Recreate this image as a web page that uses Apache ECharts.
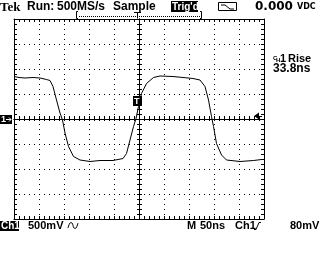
<!DOCTYPE html>
<html><head><meta charset="utf-8">
<script src="https://cdn.jsdelivr.net/npm/echarts@6/dist/echarts.min.js"></script>
<style>html,body{margin:0;padding:0;background:#fff}#c{width:320px;height:256px}</style>
</head><body><div id="c"></div>
<script>
// Ch1 trace: time (ns, trigger at 0) and voltage (V)
const timeNs = [-250,-240,-228,-212,-198,-185,-178,-172,-165,-158,-153,-148,-141,-131,-118,-98,-78,-52,-32,-25,-18,-11,-6,-1,5,15,29,42,68,88,108,122,132,139,145,149,155,165,175,202,229,245,250];
const ch1Volts = [0.85,0.83,0.82,0.83,0.82,0.79,0.77,0.65,0.38,0.12,-0.02,-0.28,-0.55,-0.75,-0.82,-0.85,-0.83,-0.83,-0.79,-0.69,-0.42,-0.15,0.01,0.25,0.51,0.71,0.83,0.86,0.85,0.83,0.81,0.78,0.65,0.38,0.05,-0.15,-0.49,-0.72,-0.82,-0.85,-0.83,-0.81,-0.81];
const timeRange = [-250, 250];   // 10 div x 50 ns
const voltRange = [-2, 2];       // 8 div x 500 mV
const timePerDiv = 50;
const voltPerDiv = 0.5;
const headerTexts = ['Run:', '500MS/s', 'Sample'];
const footerTexts = ['500mV', 'M', '50ns', 'Ch1', '80mV'];
const measTexts = ['Rise', '33.8ns'];

const BLACK = '#000';
const TL = 3;
function axisBase(isX, extra) {
  const a = {
    type: 'value',
    min: isX ? timeRange[0] : voltRange[0],
    max: isX ? timeRange[1] : voltRange[1],
    interval: isX ? timePerDiv : voltPerDiv,
    axisLabel: {show: false},
    splitLine: {show: false},
    axisLine: {show: true, onZero: false, lineStyle: {color: BLACK, width: 1}},
    axisTick: {show: true, inside: true, length: TL, lineStyle: {color: BLACK, width: 1}},
    minorTick: {show: true, splitNumber: 5, length: TL, lineStyle: {color: BLACK, width: 1}},
    axisPointer: {show: false},
    silent: true
  };
  return Object.assign(a, extra);
}
const dotted = {show: true, lineStyle: {color: BLACK, width: 1, type: [1, 4]}};
const zeroLine = {show: true, onZero: true, onZeroAxisIndex: 0, lineStyle: {color: BLACK, width: 1}};
const outTick = {show: true, inside: false, length: 2, lineStyle: {color: BLACK, width: 1}};
const outMinor = {show: true, splitNumber: 5, length: 2, lineStyle: {color: BLACK, width: 1}};

const xAxes = [
  axisBase(true, {position: 'bottom', splitLine: dotted}),
  axisBase(true, {position: 'top'}),
  axisBase(true, {position: 'bottom', axisLine: zeroLine}),
  axisBase(true, {position: 'bottom', axisLine: zeroLine, axisTick: outTick, minorTick: outMinor})
];
const yAxes = [
  axisBase(false, {position: 'left', splitLine: dotted}),
  axisBase(false, {position: 'right'}),
  axisBase(false, {position: 'left', axisLine: zeroLine}),
  axisBase(false, {position: 'left', axisLine: zeroLine, axisTick: outTick, minorTick: outMinor})
];

const F = "'Liberation Sans', Arial, sans-serif";
function txt(text, x, y, size, opts) {
  opts = opts || {};
  return {type: 'text', z: 100, silent: true, style: {text: text, x: x, y: y, fill: opts.fill || BLACK,
    font: (opts.weight || 'bold') + ' ' + size + 'px ' + (opts.family || F), verticalAlign: 'top', align: opts.align || 'left'}};
}
function rect(x, y, w, h, fill, stroke) {
  return {type: 'rect', z: 99, silent: true, shape: {x: x, y: y, width: w, height: h},
    style: {fill: fill || 'none', stroke: stroke || null, lineWidth: 1}};
}
function pline(pts, opts) {
  opts = opts || {};
  return {type: 'polyline', z: 100, silent: true, shape: {points: pts, smooth: opts.smooth || 0},
    style: {stroke: opts.stroke || BLACK, fill: null, lineWidth: opts.width || 1, lineDash: opts.dash}};
}

const graphics = [
  // header
  txt('Tek', 0, 1, 13, {family: "'Liberation Serif', serif"}),
  txt(headerTexts[0], 27, 1, 12),
  txt(headerTexts[1], 57, 1, 12),
  txt(headerTexts[2], 113, 1, 12),
  rect(171, 1, 27, 11, BLACK),
  txt("Trig'd", 172, 2, 10, {fill: '#fff'}),
  rect(218.5, 2.5, 18, 8, null, BLACK),
  pline([[221, 5], [225, 5], [230, 9], [234, 9]]),
  txt('0.000', 255, 1, 12, {family: "'DejaVu Sans', sans-serif"}),
  txt('VDC', 297, 3, 8, {family: "'DejaVu Sans', sans-serif"}),
  // record bracket
  pline([[78, 11.5], [76.5, 11.5], [76.5, 18.5], [78, 18.5]]),
  pline([[200, 11.5], [201.5, 11.5], [201.5, 18.5], [200, 18.5]]),
  pline([[79, 16.5], [200, 16.5]], {dash: [1, 1]}),
  pline([[134, 12.5], [141, 12.5]]),
  pline([[137.5, 12.5], [137.5, 18.5]]),
  // ground marker
  rect(0, 115, 12, 9, BLACK),
  txt('1', 1, 115, 9, {fill: '#fff'}),
  pline([[6, 119.5], [11, 119.5]], {stroke: '#fff'}),
  pline([[9, 117.5], [11, 119.5], [9, 121.5]], {stroke: '#fff'}),
  // trigger point marker
  rect(133, 96, 9, 10, BLACK),
  txt('T', 134, 97, 9, {fill: '#fff'}),
  // trigger level arrow
  {type: 'polygon', z: 100, silent: true, shape: {points: [[254, 116], [259, 112.5], [259, 119.5]]}, style: {fill: BLACK}},
  pline([[259, 116.5], [262, 116.5]]),
  // measurement
  txt('C', 273, 55, 6),
  txt('H', 276, 57, 6),
  txt('1', 280, 53, 11),
  txt(measTexts[0], 288, 53, 11),
  txt(measTexts[1], 273, 63, 12),
  // footer
  rect(0, 221, 19, 10, BLACK),
  txt('Ch1', 1, 221, 10, {fill: '#fff'}),
  txt(footerTexts[0], 28, 220, 11),
  pline([[68, 228], [70, 223], [72, 223], [74, 228], [76, 228], [78, 223]], {smooth: 0.4}),
  txt(footerTexts[1], 187, 220, 11),
  txt(footerTexts[2], 200, 220, 11),
  txt(footerTexts[3], 235, 220, 11),
  pline([[254, 229.5], [256, 229.5], [259, 222.5], [261, 222.5]]),
  txt(footerTexts[4], 290, 220, 11)
];

const chart = echarts.init(document.getElementById('c'), null, {renderer: 'canvas'});
chart.setOption({
  animation: false,
  backgroundColor: '#fff',
  grid: {left: 14, top: 19, width: 250, height: 200, outerBoundsMode: 'none', containLabel: false},
  xAxis: xAxes,
  yAxis: yAxes,
  series: [{
    type: 'line', xAxisIndex: 0, yAxisIndex: 0,
    data: timeNs.map((t, i) => [t, ch1Volts[i]]),
    showSymbol: false, symbol: 'none', smooth: false, silent: true,
    lineStyle: {color: BLACK, width: 1}, z: 5
  }],
  graphic: graphics
});
</script></body></html>
